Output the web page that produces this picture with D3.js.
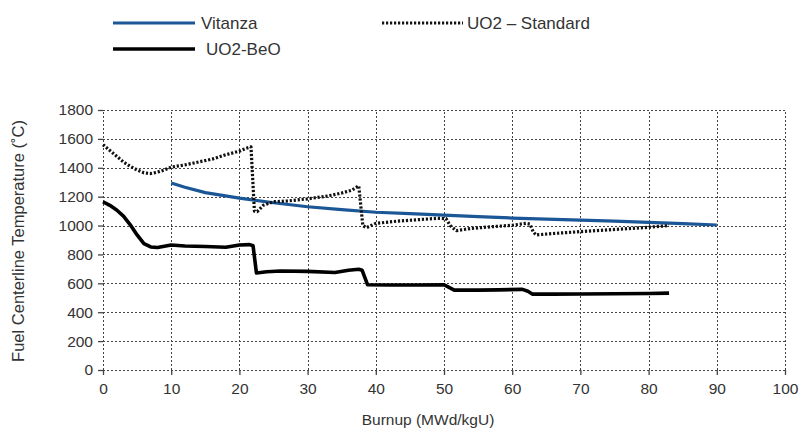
<!DOCTYPE html>
<html><head><meta charset="utf-8">
<script src="https://cdn.jsdelivr.net/npm/d3@7"></script>
<style>body{margin:0;background:#fff;}svg{display:block;font-family:"Liberation Sans",Arial,sans-serif;}</style>
</head><body>
<svg id="c" width="799" height="437"></svg>
<script>
const xTicks = [0,10,20,30,40,50,60,70,80,90,100];
const yTicks = [0,200,400,600,800,1000,1200,1400,1600,1800];

const vitanzaX = [10,12,15,20,25,30,35,40,45,50,55,60,65,70,75,80,85,90];
const vitanzaY = [1295,1265,1228,1190,1158,1130,1110,1092,1082,1072,1062,1052,1044,1037,1030,1022,1013,1004];

const standardX = [0,1,2,3,4,5,6,7,8,9,10,12,14,16,18,20,21,21.7,22.2,22.6,23.5,25,27,30,33,35,36.5,37.5,38.1,38.6,40,43,46,49,50.3,50.9,51.8,54,57,60,62,62.6,63.1,63.5,66,70,74,78,80,83];
const standardY = [1560,1520,1480,1440,1410,1385,1365,1360,1370,1385,1405,1420,1440,1460,1490,1515,1535,1545,1100,1096,1140,1165,1170,1185,1205,1225,1245,1275,1000,985,1015,1030,1040,1050,1048,1000,965,980,992,1002,1015,1010,955,935,945,958,970,982,988,1000];

const beoX = [0,1,2,3,4,5,6,7,8,10,12,15,18,20,21.5,22,22.5,24,26,30,34,36,37.5,38,38.8,42,46,50,50.6,51.5,55,58,61.5,62.3,63,66,70,75,80,83];
const beoY = [1165,1140,1108,1065,1005,935,875,852,848,865,858,855,850,865,868,860,672,680,685,683,675,690,697,690,590,588,588,590,575,553,553,555,558,545,525,525,526,528,530,532];

const legendItems = [
  {name:"Vitanza", key:"vitanza"},
  {name:"UO2 \u2013 Standard", key:"standard"},
  {name:"UO2-BeO", key:"beo"}
];

const styles = {
  vitanza:{stroke:"#1b5796", width:3.2, dash:null},
  standard:{stroke:"#111", width:3.2, dash:"2.2,1.8"},
  beo:{stroke:"#000", width:3.6, dash:null}
};

const svg = d3.select("#c");
const x = d3.scaleLinear().domain([0,100]).range([103,785]);
const y = d3.scaleLinear().domain([0,1800]).range([370,110]);
const px = v => Math.round(v) + 0.5;

const gridColor = "#444";
// grid
svg.append("g").selectAll("line").data(yTicks).join("line")
  .attr("x1", x(0)).attr("x2", x(100)).attr("y1", d=>px(y(d))).attr("y2", d=>px(y(d)))
  .attr("stroke", gridColor).attr("stroke-width",1.2).attr("stroke-dasharray","2,2")
  .attr("shape-rendering","crispEdges");
svg.append("g").selectAll("line").data(xTicks).join("line")
  .attr("y1", y(0)).attr("y2", y(1800)).attr("x1", d=>px(x(d))).attr("x2", d=>px(x(d)))
  .attr("stroke", gridColor).attr("stroke-width",1.2).attr("stroke-dasharray","2,2")
  .attr("shape-rendering","crispEdges");

// axes
const xAxis = d3.axisBottom(x).tickValues(xTicks).tickFormat(d3.format("d")).tickSize(5).tickPadding(8);
const yAxis = d3.axisLeft(y).tickValues(yTicks).tickFormat(d3.format("d")).tickSize(5).tickPadding(5);
const gx = svg.append("g").attr("transform",`translate(0,${y(0)})`).call(xAxis);
const gy = svg.append("g").attr("transform",`translate(${x(0)},0)`).call(yAxis);
[gx,gy].forEach(g=>{
  g.select(".domain").remove();
  g.selectAll(".tick line").attr("stroke",gridColor).attr("stroke-width",1.3);
  g.selectAll("text").attr("fill","#333").style("font-size","15.5px").style("font-family","'Liberation Sans',Arial,sans-serif");
});

// lines
const line = d3.line().x(d=>x(d[0])).y(d=>y(d[1]));
function draw(xs, ys, key){
  const s = styles[key];
  svg.append("path").datum(xs.map((v,i)=>[v,ys[i]]))
    .attr("d", line).attr("fill","none")
    .attr("stroke", s.stroke).attr("stroke-width", s.width)
    .attr("stroke-dasharray", s.dash).attr("stroke-linejoin","round");
}
draw(vitanzaX, vitanzaY, "vitanza");
draw(standardX, standardY, "standard");
draw(beoX, beoY, "beo");

// titles
svg.append("text").attr("x", 428).attr("y", 425).attr("text-anchor","middle")
  .attr("fill","#333").style("font-size","15.5px").text("Burnup (MWd/kgU)");
svg.append("text").attr("transform","translate(24,241) rotate(-90)").attr("text-anchor","middle")
  .attr("fill","#333").style("font-size","16.5px").text("Fuel Centerline Temperature (\u02DAC)");

// legend
const legPos = {
  vitanza:{x1:113,x2:195,y:23,tx:201},
  standard:{x1:382,x2:463,y:23,tx:467},
  beo:{x1:113,x2:195,y:49,tx:206}
};
const lg = svg.append("g");
legendItems.forEach(it=>{
  const p = legPos[it.key], s = styles[it.key];
  lg.append("line").attr("x1",p.x1).attr("x2",p.x2).attr("y1",p.y).attr("y2",p.y)
    .attr("stroke",s.stroke).attr("stroke-width",s.width).attr("stroke-dasharray",s.dash);
  lg.append("text").attr("x",p.tx).attr("y",p.y).attr("dy","0.36em")
    .attr("fill","#333").style("font-size","17px").text(it.name);
});
</script>
</body></html>
